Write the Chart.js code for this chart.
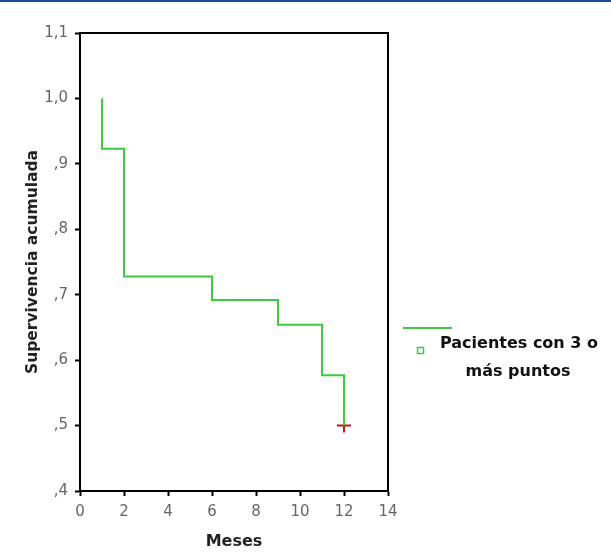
<!DOCTYPE html>
<html>
<head>
<meta charset="utf-8">
<script src="https://cdn.jsdelivr.net/npm/chart.js@4.4.1/dist/chart.umd.min.js"></script>
<style>
  html, body { margin: 0; padding: 0; background: #fff; }
  #wrap { width: 611px; height: 554px; }
</style>
</head>
<body>
<div id="wrap"><canvas id="km"></canvas></div>
<script>
// Kaplan-Meier data
const seriesLabel = "Pacientes con 3 o más puntos";
const startTime = 1;
const startSurvival = 1.0;
const eventTimes = [1, 2, 6, 9, 11, 12];
const survival = [0.923, 0.728, 0.692, 0.654, 0.577, 0.5];
const censorTimes = [12];
const censorSurvival = [0.5];
const xTicks = [0, 2, 4, 6, 8, 10, 12, 14];
const yTicks = [0.4, 0.5, 0.6, 0.7, 0.8, 0.9, 1.0, 1.1];

const green = "#3fcb3f";
const red = "#c0141e";
const font = "'DejaVu Sans', Verdana, sans-serif";

// stepped line: horizontal to the next event time, then drop
const kmPoints = [{ x: startTime, y: startSurvival }];
eventTimes.forEach((t, i) => kmPoints.push({ x: t, y: survival[i] }));
const censorPoints = censorTimes.map((t, i) => ({ x: t, y: censorSurvival[i] }));

function yLabel(v) {
  let s = v.toFixed(1).replace(".", ",");
  if (s.startsWith("0")) s = s.slice(1);
  return s;
}

// frame, top band and the SPSS-style legend
const decor = {
  id: "decor",
  beforeDraw(chart) {
    const c = chart.ctx;
    c.save();
    c.fillStyle = "#1f4a96";
    c.fillRect(0, 0, chart.width, 2);
    c.restore();
  },
  afterDraw(chart) {
    const c = chart.ctx;
    const a = chart.chartArea;
    c.save();
    c.strokeStyle = "#000";
    c.lineWidth = 2;
    c.beginPath();
    c.moveTo(a.left, a.top);
    c.lineTo(a.right, a.top);
    c.lineTo(a.right, a.bottom);
    c.stroke();

    // legend
    c.strokeStyle = green;
    c.lineWidth = 2;
    c.beginPath();
    c.moveTo(403, 328);
    c.lineTo(452, 328);
    c.stroke();
    c.lineWidth = 1.5;
    c.strokeRect(417.5, 347.5, 6, 6);

    c.fillStyle = "#111";
    c.font = "bold 16px " + font;
    c.textAlign = "center";
    c.textBaseline = "middle";
    const words = seriesLabel.split(" ");
    c.fillText(words.slice(0, 4).join(" "), 519, 344);
    c.fillText(words.slice(4).join(" "), 518, 372);
    c.restore();
  }
};

new Chart(document.getElementById("km"), {
  type: "line",
  data: {
    datasets: [
      {
        label: seriesLabel,
        data: kmPoints,
        borderColor: green,
        borderWidth: 2,
        pointRadius: 0,
        stepped: true,
        fill: false,
        tension: 0,
      },
      {
        type: "scatter",
        label: "Censurado",
        data: censorPoints,
        pointStyle: "cross",
        pointRadius: 7,
        borderColor: red,
        borderWidth: 2,
      },
    ],
  },
  options: {
    responsive: true,
    maintainAspectRatio: false,
    animation: false,
    layout: { padding: { top: 33, right: 223, left: 0, bottom: 0 } },
    plugins: {
      legend: { display: false },
      tooltip: { enabled: false },
    },
    scales: {
      x: {
        type: "linear",
        min: 0,
        max: 14,
        afterBuildTicks: (axis) => { axis.ticks = xTicks.map((v) => ({ value: v })); },
        afterFit: (axis) => { axis.height = 63; },
        grid: { drawOnChartArea: false, drawTicks: true, tickLength: 5, tickWidth: 2, color: "#000" },
        border: { display: true, color: "#000", width: 2 },
        ticks: { color: "#666", font: { family: font, size: 15 }, padding: 7 },
        title: {
          display: true,
          text: "Meses",
          color: "#222",
          font: { family: font, size: 16, weight: "bold" },
          padding: { top: 0, bottom: 3 },
        },
      },
      y: {
        min: 0.4,
        max: 1.1,
        afterBuildTicks: (axis) => { axis.ticks = yTicks.map((v) => ({ value: v })); },
        afterFit: (axis) => { axis.width = 80; },
        grid: { drawOnChartArea: false, drawTicks: true, tickLength: 5, tickWidth: 2, color: "#000" },
        border: { display: true, color: "#000", width: 2 },
        ticks: { color: "#666", font: { family: font, size: 15 }, padding: 7, callback: yLabel },
        title: {
          display: true,
          text: "Supervivencia acumulada",
          color: "#222",
          font: { family: font, size: 15.5, weight: "bold" },
          padding: { top: 24, bottom: 0 },
        },
      },
    },
  },
  plugins: [decor],
});
</script>
</body>
</html>
